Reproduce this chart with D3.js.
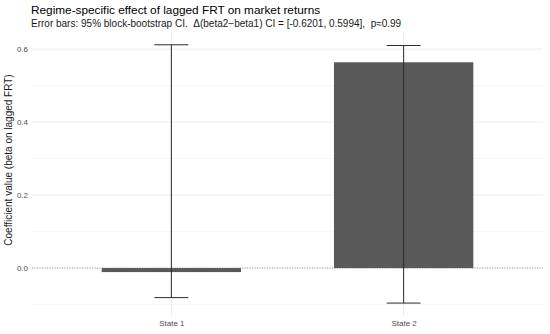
<!DOCTYPE html>
<html>
<head>
<meta charset="utf-8">
<script src="https://cdn.jsdelivr.net/npm/d3@7"></script>
<style>
body{margin:0;background:#fff;}
svg{display:block;font-family:"Liberation Sans",Arial,sans-serif;}
</style>
</head>
<body>
<div id="plot"></div>
<script>
//chart data
var states = ['State 1','State 2'];
var coefs = [-0.011, 0.564];
var ciLow = [-0.081, -0.096];
var ciHigh = [0.612, 0.610];
var yTicks = [0, 0.2, 0.4, 0.6];
var yMinor = [-0.1, 0.1, 0.3, 0.5];

var W = 550, H = 334;
var margin = {t:32, r:7, b:18, l:32};

var svg = d3.select('#plot').append('svg')
    .attr('width', W)
    .attr('height', H);

var x = d3.scalePoint()
    .domain(states)
    .range([margin.l, W - margin.r])
    .padding(0.6);

var step = x.step();

var y = d3.scaleLinear()
    .domain([-0.1314, 0.647])
    .range([H - margin.b, margin.t]);

//gridlines
svg.selectAll('.minor')
    .data(yMinor)
    .enter()
    .append('line')
    .attr('x1', margin.l).attr('x2', W - margin.r)
    .attr('y1', function(d){ return y(d)}).attr('y2', function(d){ return y(d)})
    .attr('stroke', '#f2f2f2').attr('stroke-width', 0.6);

svg.selectAll('.major')
    .data(yTicks)
    .enter()
    .append('line')
    .attr('x1', margin.l).attr('x2', W - margin.r)
    .attr('y1', function(d){ return y(d)}).attr('y2', function(d){ return y(d)})
    .attr('stroke', '#ebebeb').attr('stroke-width', 1);

svg.selectAll('.vgrid')
    .data(states)
    .enter()
    .append('line')
    .attr('x1', function(d){ return x(d)}).attr('x2', function(d){ return x(d)})
    .attr('y1', margin.t).attr('y2', H - margin.b)
    .attr('stroke', '#ebebeb').attr('stroke-width', 1);

//dotted zero line
svg.append('line')
    .attr('x1', margin.l).attr('x2', W - margin.r)
    .attr('y1', y(0)).attr('y2', y(0))
    .attr('stroke', '#8c8c8c').attr('stroke-width', 0.8)
    .attr('stroke-dasharray', '1,1.5');

//bars
svg.selectAll('.bar')
    .data(states)
    .enter()
    .append('rect')
    .attr('x', function(d){ return x(d) - step*0.3})
    .attr('width', step*0.6)
    .attr('y', function(d,i){ return y(Math.max(0, coefs[i]))})
    .attr('height', function(d,i){ return Math.abs(y(coefs[i]) - y(0))})
    .attr('fill', '#595959');

//error bars
var eb = svg.selectAll('.eb')
    .data(states)
    .enter()
    .append('g');

eb.append('line')
    .attr('x1', function(d){ return x(d)}).attr('x2', function(d){ return x(d)})
    .attr('y1', function(d,i){ return y(ciLow[i])}).attr('y2', function(d,i){ return y(ciHigh[i])})
    .attr('stroke', '#2b2b2b').attr('stroke-width', 1);

eb.append('line')
    .attr('x1', function(d){ return x(d) - step*0.073}).attr('x2', function(d){ return x(d) + step*0.073})
    .attr('y1', function(d,i){ return y(ciHigh[i])}).attr('y2', function(d,i){ return y(ciHigh[i])})
    .attr('stroke', '#2b2b2b').attr('stroke-width', 1);

eb.append('line')
    .attr('x1', function(d){ return x(d) - step*0.073}).attr('x2', function(d){ return x(d) + step*0.073})
    .attr('y1', function(d,i){ return y(ciLow[i])}).attr('y2', function(d,i){ return y(ciLow[i])})
    .attr('stroke', '#2b2b2b').attr('stroke-width', 1);

//axes, no lines only labels
var yAxis = svg.append('g')
    .attr('transform', 'translate(' + margin.l + ',0)')
    .call(d3.axisLeft(y).tickValues(yTicks).tickFormat(d3.format('.1f')).tickSize(0).tickPadding(4));
yAxis.select('.domain').remove();
yAxis.selectAll('text').attr('fill', '#4d4d4d').attr('font-size', 8).attr('font-family', '"Liberation Sans",Arial,sans-serif');

var xAxis = svg.append('g')
    .attr('transform', 'translate(0,' + (H - margin.b) + ')')
    .call(d3.axisBottom(x).tickSize(0).tickPadding(4));
xAxis.select('.domain').remove();
xAxis.selectAll('text').attr('fill', '#4d4d4d').attr('font-size', 8).attr('font-family', '"Liberation Sans",Arial,sans-serif');

//titles
svg.append('text')
    .attr('x', 31).attr('y', 14)
    .attr('font-size', 11.8)
    .attr('fill', '#000')
    .text('Regime-specific effect of lagged FRT on market returns');

svg.append('text')
    .attr('x', 31).attr('y', 27)
    .attr('font-size', 10)
    .attr('fill', '#1a1a1a')
    .style('white-space', 'pre')
    .text('Error bars: 95% block-bootstrap CI.  \u0394(beta2\u2212beta1) CI = [-0.6201, 0.5994],  p\u22480.99');

svg.append('text')
    .attr('transform', 'translate(12,160) rotate(-90)')
    .attr('text-anchor', 'middle')
    .attr('font-size', 10)
    .attr('fill', '#1a1a1a')
    .text('Coefficient value (beta on lagged FRT)');
</script>
</body>
</html>
